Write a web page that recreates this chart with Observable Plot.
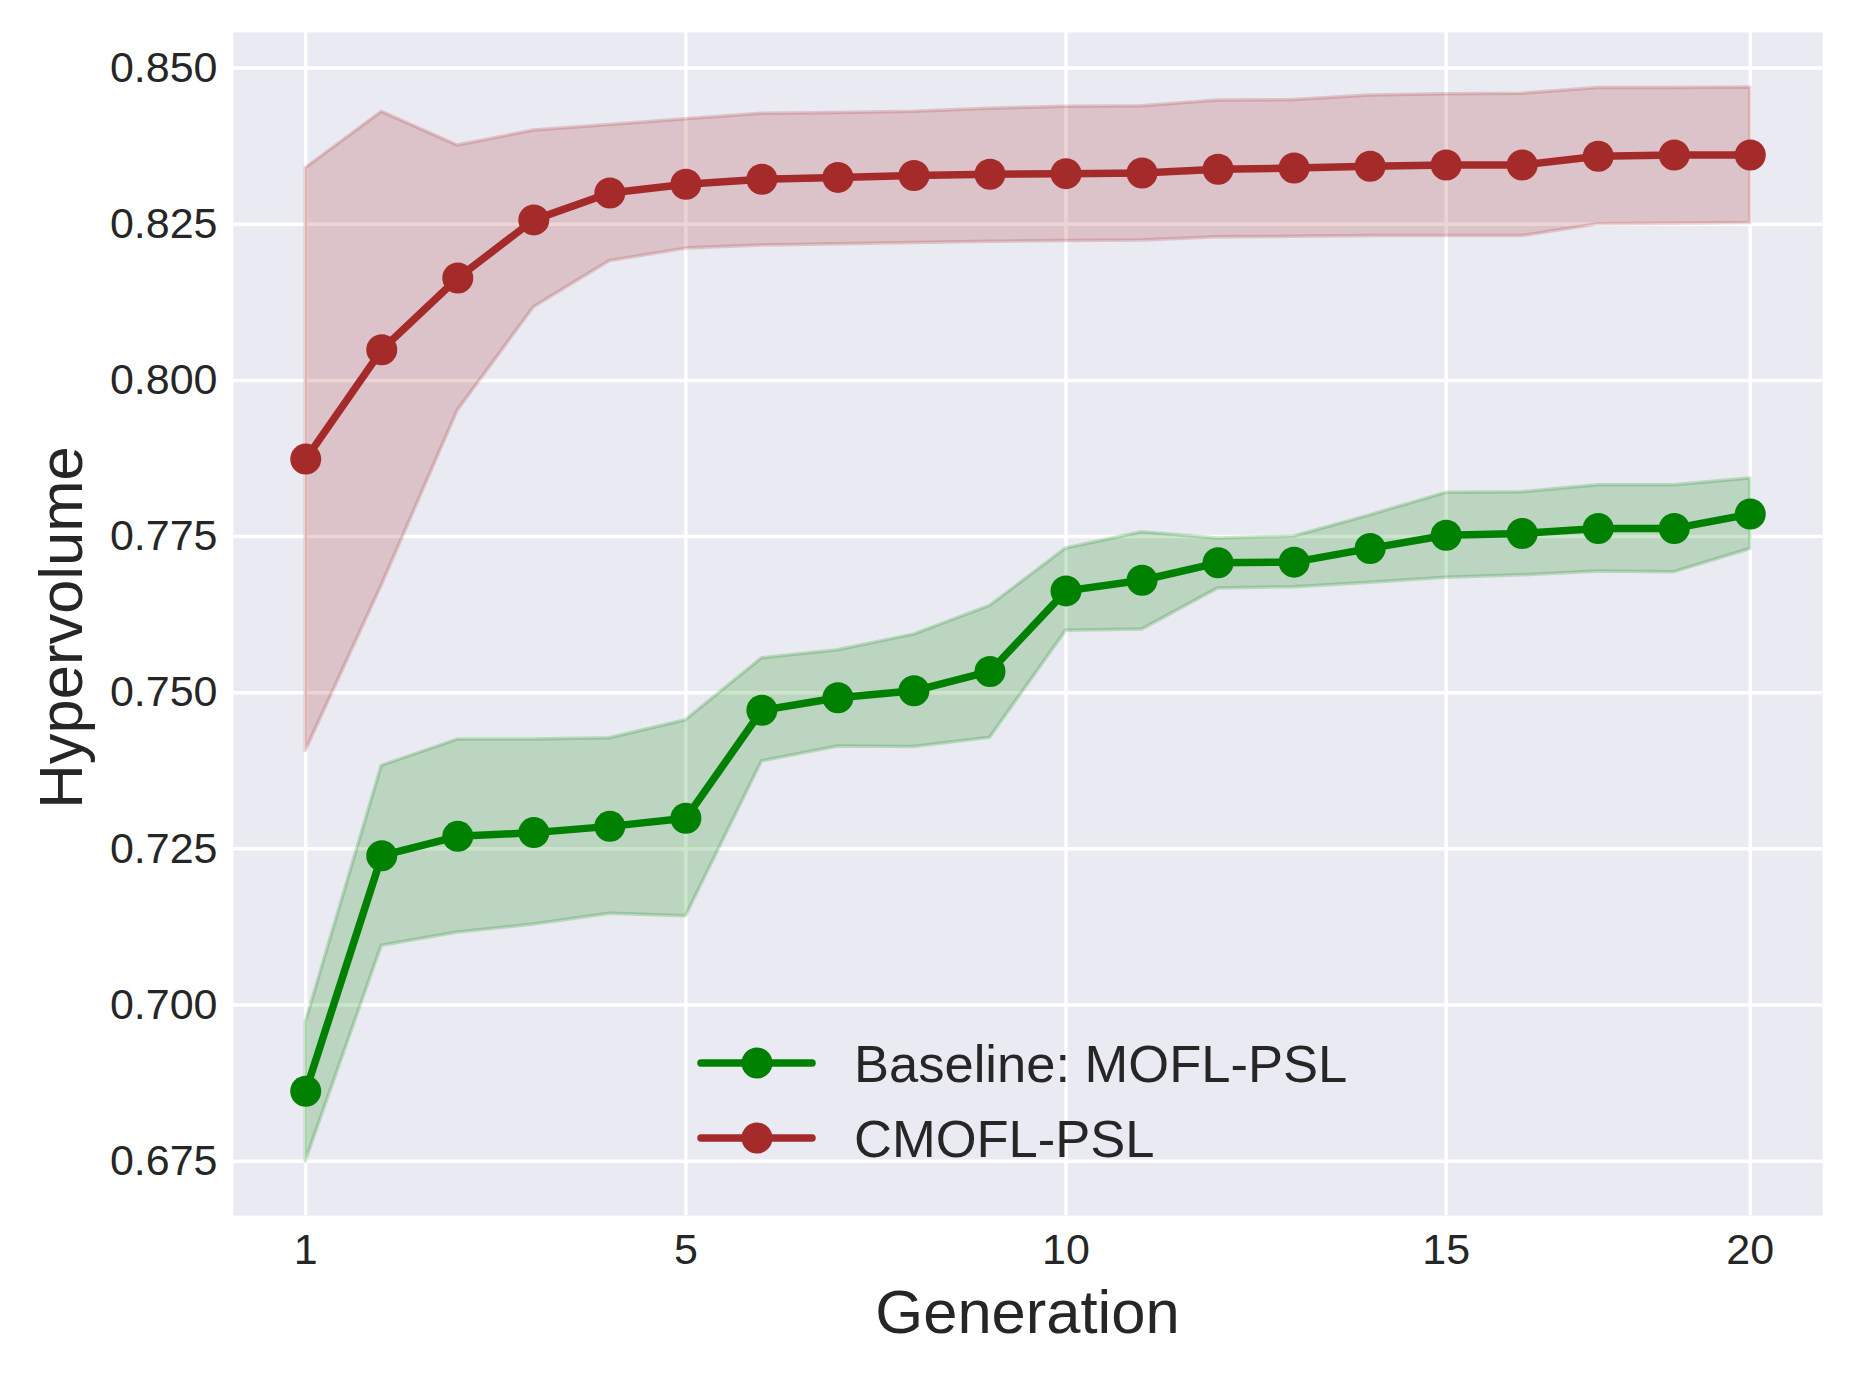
<!DOCTYPE html>
<html>
<head>
<meta charset="utf-8">
<script src="https://cdn.jsdelivr.net/npm/d3@7"></script>
<script src="https://cdn.jsdelivr.net/npm/@observablehq/plot@0.6"></script>
<style>
  html, body { margin: 0; padding: 0; background: #ffffff; }
  #chart svg { display: block; }
</style>
</head>
<body>
<div id="chart"></div>
<script>
// ---- data ----
const step = [0,1,2,3,4,5,6,7,8,9,10,11,12,13,14,15,16,17,18,19];
const xTickPositions = [0, 5, 10, 15, 19];
const xTickLabels = ["1", "5", "10", "15", "20"];
const yTicks = [0.675, 0.700, 0.725, 0.750, 0.775, 0.800, 0.825, 0.850];

const baselineMean  = [0.6862,0.7239,0.7270,0.7276,0.7286,0.7299,0.7472,0.7492,0.7503,0.7534,0.7663,0.7680,0.7708,0.7709,0.7731,0.7752,0.7755,0.7763,0.7763,0.7786];
const baselineUpper = [0.6972,0.7383,0.7425,0.7425,0.7427,0.7456,0.7555,0.7568,0.7593,0.7639,0.7731,0.7757,0.7747,0.7750,0.7784,0.7820,0.7821,0.7832,0.7832,0.7843];
const baselineLower = [0.6750,0.7095,0.7116,0.7129,0.7146,0.7142,0.7390,0.7414,0.7413,0.7428,0.7599,0.7601,0.7667,0.7669,0.7676,0.7684,0.7688,0.7694,0.7693,0.7730];

const cmoflMean  = [0.7874,0.8049,0.8164,0.8257,0.8300,0.8314,0.8322,0.8325,0.8328,0.8330,0.8331,0.8332,0.8338,0.8340,0.8343,0.8345,0.8345,0.8359,0.8361,0.8361];
const cmoflUpper = [0.8340,0.8430,0.8376,0.8400,0.8409,0.8418,0.8427,0.8428,0.8430,0.8435,0.8438,0.8439,0.8448,0.8449,0.8456,0.8458,0.8459,0.8468,0.8468,0.8469];
const cmoflLower = [0.7407,0.7672,0.7952,0.8117,0.8191,0.8211,0.8216,0.8218,0.8220,0.8222,0.8223,0.8224,0.8229,0.8230,0.8231,0.8231,0.8231,0.8250,0.8251,0.8252];

const seriesNames = ["Baseline: MOFL-PSL", "CMOFL-PSL"];
const seriesColors = ["green", "#a52a2a"];

// ---- tables ----
const baseline = step.map((s, i) => ({s, m: baselineMean[i], lo: baselineLower[i], hi: baselineUpper[i]}));
const cmofl = step.map((s, i) => ({s, m: cmoflMean[i], lo: cmoflLower[i], hi: cmoflUpper[i]}));

const W = 1853, H = 1377;
const mL = 233, mR = 31, mT = 32, mB = 162;
const font = "'Liberation Sans', Arial, Helvetica, sans-serif";
const textColor = "#262626";

function seriesMarks(data, color) {
  return [
    Plot.areaY(data, {x: "s", y1: "lo", y2: "hi", fill: color, fillOpacity: 0.2,
                      stroke: color, strokeOpacity: 0.2, strokeWidth: 3.5}),
    Plot.line(data, {x: "s", y: "m", stroke: color, strokeWidth: 7.5}),
    Plot.dot(data, {x: "s", y: "m", fill: color, r: 15.5, stroke: "none"})
  ];
}

const chart = Plot.plot({
  width: W, height: H,
  marginLeft: mL, marginRight: mR, marginTop: mT, marginBottom: mB,
  style: {fontFamily: font, background: "#ffffff", color: textColor, overflow: "visible"},
  x: {domain: [-0.95, 19.95]},
  y: {domain: [0.6663, 0.8557]},
  marks: [
    Plot.frame({fill: "#eaeaf2", stroke: "none"}),
    Plot.gridY(yTicks, {stroke: "#ffffff", strokeOpacity: 1, strokeWidth: 3.5}),
    Plot.gridX(xTickPositions, {stroke: "#ffffff", strokeOpacity: 1, strokeWidth: 3.5}),
    ...seriesMarks(baseline, seriesColors[0]),
    ...seriesMarks(cmofl, seriesColors[1]),
    Plot.axisX(xTickPositions, {tickSize: 0, tickPadding: 17.5, fontSize: 43,
                                tickFormat: (d) => xTickLabels[xTickPositions.indexOf(d)], label: null}),
    Plot.axisY(yTicks, {tickSize: 0, tickPadding: 16, fontSize: 43,
                        tickFormat: d3.format(".3f"), label: null})
  ]
});

document.getElementById("chart").appendChild(chart);

// ---- axis titles and legend ----
const svg = d3.select(chart);
const plotCenterX = (mL + (W - mR)) / 2;
const plotCenterY = (mT + (H - mB)) / 2;

svg.append("text")
  .attr("x", plotCenterX).attr("y", 1333)
  .attr("text-anchor", "middle")
  .attr("font-family", font).attr("font-size", 61.5).attr("fill", textColor)
  .text("Generation");

svg.append("text")
  .attr("transform", `translate(82,${plotCenterY + 4}) rotate(-90)`)
  .attr("text-anchor", "middle")
  .attr("font-family", font).attr("font-size", 61.5).attr("fill", textColor)
  .text("Hypervolume");

const legend = svg.append("g");
const rowY = [1063, 1138];
seriesNames.forEach((name, i) => {
  const g = legend.append("g");
  g.append("line")
    .attr("x1", 701).attr("x2", 812).attr("y1", rowY[i]).attr("y2", rowY[i])
    .attr("stroke", seriesColors[i]).attr("stroke-width", 7.5).attr("stroke-linecap", "round");
  g.append("circle")
    .attr("cx", 757).attr("cy", rowY[i]).attr("r", 15.5).attr("fill", seriesColors[i]);
  g.append("text")
    .attr("x", 854).attr("y", rowY[i] + 19)
    .attr("text-anchor", "start")
    .attr("font-family", font).attr("font-size", 52.5).attr("fill", textColor)
    .text(name);
});
</script>
</body>
</html>
